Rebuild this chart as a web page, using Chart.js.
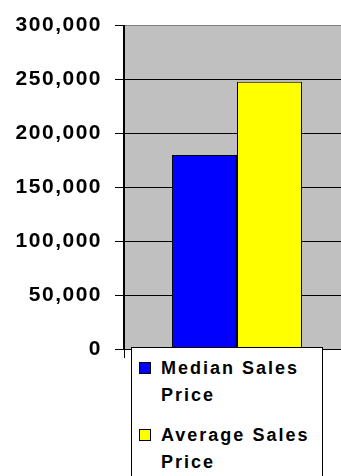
<!DOCTYPE html>
<html>
<head>
<meta charset="utf-8">
<script src="https://cdn.jsdelivr.net/npm/chart.js@4/dist/chart.umd.min.js"></script>
<style>
  html, body { margin: 0; padding: 0; overflow: hidden; background: #fff; }
  #wrap { position: relative; width: 350px; height: 476px; }
  #chart { display: block; }
  #legend {
    position: absolute; left: 131px; top: 347px;
    width: 192px; height: 140px; box-sizing: border-box;
    border: 1px solid #000; background: #fff;
    padding: 7px 0 0 7px;
    font: bold 18px "Liberation Sans", Arial, sans-serif;
    letter-spacing: 2px; color: #000;
  }
  .item { display: flex; align-items: flex-start; margin-bottom: 13px; line-height: 27px; }
  .swatch { width: 12px; height: 12px; box-sizing: border-box; border: 1px solid #000; margin: 7px 10px 0 0; flex: none; }
  .text { width: 166px; flex: none; }
</style>
</head>
<body>
<div id="wrap">
  <canvas id="chart" width="350" height="476"></canvas>
  <div id="legend"></div>
</div>
<script>
// Sales price figures
const categories = [''];
const seriesNames = ['Median Sales Price', 'Average Sales Price'];
const medianSalesPrice = [180000];
const averageSalesPrice = [248000];
const yAxisMin = 0;
const yAxisMax = 300000;
const yAxisStep = 50000;

const numberFormat = new Intl.NumberFormat('en-US');

// Grey plot-area fill behind the gridlines
const plotBackground = {
  id: 'plotBackground',
  beforeDraw(chart) {
    const { ctx, chartArea: a } = chart;
    ctx.save();
    ctx.fillStyle = '#c0c0c0';
    ctx.fillRect(a.left, a.top, a.right - a.left, a.bottom - a.top);
    ctx.restore();
  }
};

// Slightly wider character spacing for the axis labels
const labelSpacing = {
  id: 'labelSpacing',
  beforeUpdate(chart) { chart.ctx.letterSpacing = '1.5px'; },
  beforeDraw(chart) { chart.ctx.letterSpacing = '1.5px'; }
};

const chart = new Chart(document.getElementById('chart'), {
  type: 'bar',
  data: {
    labels: categories,
    datasets: [
      {
        label: seriesNames[0],
        data: medianSalesPrice,
        backgroundColor: '#0000ff',
        borderColor: '#000',
        borderWidth: 1,
        borderSkipped: false
      },
      {
        label: seriesNames[1],
        data: averageSalesPrice,
        backgroundColor: '#ffff00',
        borderColor: '#000',
        borderWidth: 1,
        borderSkipped: false
      }
    ]
  },
  options: {
    responsive: false,
    animation: false,
    events: [],
    layout: { padding: { top: 23, right: 0, bottom: 127, left: 0 } },
    datasets: { bar: { categoryPercentage: 0.575, barPercentage: 1 } },
    plugins: {
      legend: { display: false },
      tooltip: { enabled: false }
    },
    scales: {
      x: {
        ticks: { display: false },
        grid: {
          display: true,
          drawOnChartArea: false,
          drawTicks: true,
          tickLength: 9,
          color: '#000',
          lineWidth: 1
        },
        border: { display: true, color: '#000', width: 1 },
        afterFit(scale) { scale.height = 0; }
      },
      y: {
        min: yAxisMin,
        max: yAxisMax,
        ticks: {
          stepSize: yAxisStep,
          padding: 13,
          color: '#000',
          font: { family: '"Liberation Sans", Arial, sans-serif', size: 21, weight: 'bold' },
          callback: (v) => numberFormat.format(v)
        },
        grid: {
          color: (c) => (c.tick && c.tick.value === yAxisMax ? '#808080' : '#000'),
          tickColor: '#000',
          lineWidth: 1,
          tickLength: 9
        },
        border: { display: true, color: '#000', width: 2 },
        afterFit(scale) { scale.width = 124; }
      }
    }
  },
  plugins: [plotBackground, labelSpacing]
});

// Legend built from the chart's datasets
const legendEl = document.getElementById('legend');
chart.data.datasets.forEach((ds) => {
  const item = document.createElement('div');
  item.className = 'item';
  const sw = document.createElement('span');
  sw.className = 'swatch';
  sw.style.background = ds.backgroundColor;
  const tx = document.createElement('span');
  tx.className = 'text';
  tx.textContent = ds.label;
  item.appendChild(sw);
  item.appendChild(tx);
  legendEl.appendChild(item);
});
</script>
</body>
</html>
